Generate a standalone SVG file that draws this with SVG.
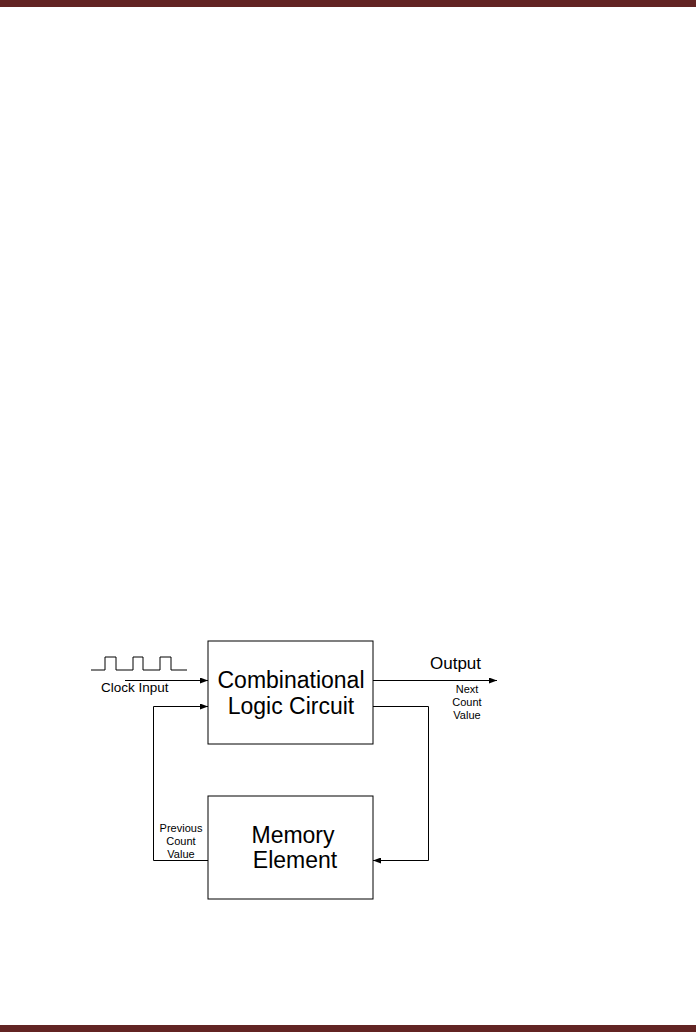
<svg xmlns="http://www.w3.org/2000/svg" width="696" height="1034" viewBox="0 0 696 1034">
<style>
.box{fill:#fff;stroke:#000;stroke-width:1}
.ln{fill:none;stroke:#000;stroke-width:1}
.big{font-family:"Liberation Sans",Arial,sans-serif;font-size:23px;fill:#000;text-anchor:middle}
.sm{font-family:"Liberation Sans",Arial,sans-serif;font-size:11px;fill:#000;text-anchor:middle}
.md{font-family:"Liberation Sans",Arial,sans-serif;font-size:13.5px;fill:#000}
.out{font-family:"Liberation Sans",Arial,sans-serif;font-size:17px;fill:#000}
</style>
<defs>
<marker id="ah" markerWidth="8" markerHeight="6" refX="8" refY="3" orient="auto" markerUnits="userSpaceOnUse">
<path d="M0,0 L8,3 L0,6 z" fill="#000"/>
</marker>
</defs>
<rect x="0" y="0" width="696" height="7" fill="#622423"/>
<rect x="0" y="1025" width="696" height="7" fill="#622423"/>
<g id="clock">
<path class="ln" d="M91,670 H105 V657 H116 V670 H133 V657 H143 V670 H160 V657 H171 V670 H187"/>
<text class="md" x="101" y="692">Clock Input</text>
</g>
<g id="combinational">
<rect class="box" x="208" y="641" width="165" height="103"/>
<text class="big" x="291" y="688">Combinational</text>
<text class="big" x="291" y="714">Logic Circuit</text>
</g>
<g id="memory">
<rect class="box" x="208" y="796" width="165" height="103"/>
<text class="big" x="293" y="843">Memory</text>
<text class="big" x="295" y="868">Element</text>
</g>
<g id="connectors">
<line class="ln" x1="125" y1="680.5" x2="208" y2="680.5" marker-end="url(#ah)"/>
<path class="ln" d="M208,860.5 H153.5 V706.5 H208" marker-end="url(#ah)"/>
<line class="ln" x1="373" y1="680.5" x2="497" y2="680.5" marker-end="url(#ah)"/>
<path class="ln" d="M373,706.5 H428.5 V860.5 H373" marker-end="url(#ah)"/>
</g>
<g id="labels">
<text class="out" x="430" y="669">Output</text>
<text class="sm" x="467" y="693">Next</text>
<text class="sm" x="467" y="706">Count</text>
<text class="sm" x="467" y="719">Value</text>
<text class="sm" x="181" y="832">Previous</text>
<text class="sm" x="181" y="845">Count</text>
<text class="sm" x="181" y="858">Value</text>
</g>
</svg>
